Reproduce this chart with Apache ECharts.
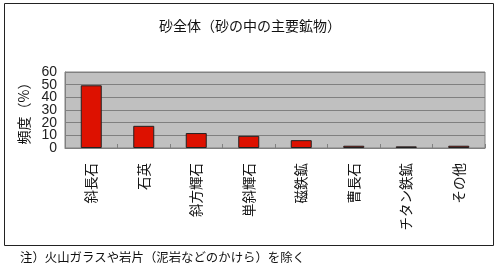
<!DOCTYPE html>
<html>
<head>
<meta charset="utf-8">
<script src="https://cdn.jsdelivr.net/npm/echarts@6/dist/echarts.min.js"></script>
<style>
  html, body { margin: 0; padding: 0; background: #fff; }
  #chart { width: 500px; height: 270px; }
</style>
</head>
<body>
<div id="chart"></div>
<script>
let minerals = ['斜長石', '石英', '斜方輝石', '単斜輝石', '磁鉄鉱', '曹長石', 'チタン鉄鉱', 'その他'];
let freq = [49.5, 17.5, 11.8, 9.6, 6.2, 1.8, 1.3, 1.8];
let yTicks = [0, 10, 20, 30, 40, 50, 60];

let fontJP = '"Noto Sans CJK JP", sans-serif';

let dom = document.getElementById('chart');
let chart = echarts.init(dom);

let option = {
    animation: false,
    backgroundColor: '#fff',
    title: {
        text: '砂全体（砂の中の主要鉱物）',
        left: 245,
        top: 14,
        textAlign: 'center',
        textStyle: {
            fontFamily: fontJP,
            fontSize: 14,
            fontWeight: 'normal',
            color: '#111'
        }
    },
    graphic: [
        {
            type: 'rect',
            shape: { x: 4.5, y: 3.5, width: 489, height: 242 },
            style: { fill: 'none', stroke: '#222', lineWidth: 1 },
            silent: true
        },
        {
            type: 'text',
            left: 20,
            top: 251,
            style: {
                text: '注）火山ガラスや岩片（泥岩などのかけら）を除く',
                fontFamily: fontJP,
                fontSize: 12.4,
                fill: '#111'
            }
        }
    ],
    grid: {
        left: 65,
        right: 15,
        top: 72,
        bottom: 122,
        show: true,
        backgroundColor: '#c0c0c0',
        borderColor: '#808080',
        borderWidth: 1
    },
    xAxis: {
        type: 'category',
        data: minerals,
        axisLine: { show: true, lineStyle: { color: '#808080' } },
        axisTick: {
            show: true,
            inside: true,
            length: 4,
            lineStyle: { color: '#808080' }
        },
        axisLabel: {
            interval: 0,
            rotate: 90,
            margin: 15,
            fontFamily: fontJP,
            fontSize: 13.5,
            color: '#111'
        }
    },
    yAxis: {
        type: 'value',
        min: 0,
        max: 60,
        interval: 10,
        name: '頻度（%）',
        nameLocation: 'middle',
        nameGap: 34,
        nameRotate: 90,
        nameTextStyle: {
            fontFamily: fontJP,
            fontSize: 14,
            color: '#111'
        },
        axisLine: { show: true, lineStyle: { color: '#808080' } },
        axisTick: { show: false },
        // labels drawn below, the tight spacing makes echarts drop every other one
        axisLabel: { show: false },
        splitLine: { show: true, lineStyle: { color: '#808080', width: 1 } }
    },
    series: [
        {
            type: 'bar',
            data: freq,
            barWidth: 21,
            itemStyle: {
                color: '#dd1100',
                borderColor: '#222',
                borderWidth: 1
            }
        }
    ]
};

chart.setOption(option);

// y tick labels placed with the axis scale
let yLabels = yTicks.map(function (v) {
    let p = chart.convertToPixel({ gridIndex: 0 }, [0, v]);
    return {
        type: 'text',
        x: 57,
        y: p[1],
        style: {
            text: String(v),
            fontFamily: '"Liberation Sans Narrow", "Liberation Sans", sans-serif',
            fontSize: 14,
            fill: '#222',
            align: 'right',
            verticalAlign: 'middle'
        },
        silent: true
    };
});

chart.setOption({ graphic: option.graphic.concat(yLabels) });
</script>
</body>
</html>
